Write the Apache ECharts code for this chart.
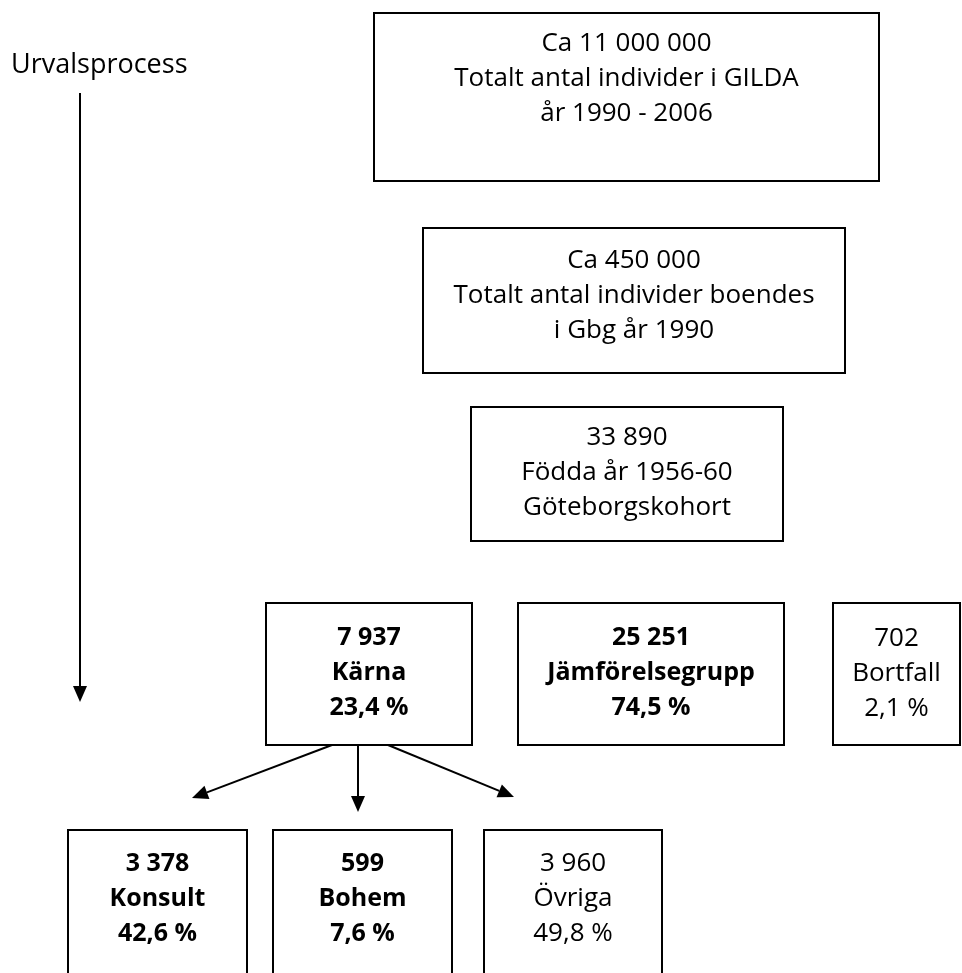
<!DOCTYPE html>
<html>
<head>
<meta charset="utf-8">
<script src="https://cdn.jsdelivr.net/npm/echarts@6/dist/echarts.min.js"></script>
<style>
  html, body { margin: 0; padding: 0; background: #fff; }
  #urval { width: 962px; height: 973px; }
</style>
</head>
<body>
<div id="urval"></div>
<script>
// texts of the boxes, top to bottom, left to right
const counts = ["Ca 11 000 000", "Ca 450 000", "33 890", "7 937", "25 251", "702", "3 378", "599", "3 960"];
const labels = ["Totalt antal individer i GILDA", "Totalt antal individer boendes", "Födda år 1956-60",
  "Kärna", "Jämförelsegrupp", "Bortfall", "Konsult", "Bohem", "Övriga"];
const notes = ["år 1990 - 2006", "i Gbg år 1990", "Göteborgskohort",
  "23,4 %", "74,5 %", "2,1 %", "42,6 %", "7,6 %", "49,8 %"];
const sideTitle = "Urvalsprocess";

// layout (page units, y downwards): box corners, first text line, bold
const boxLayout = [
  [374, 13, 879, 181, 44, false],
  [423, 228, 845, 373, 261, false],
  [471, 407, 783, 541, 438, false],
  [266, 603, 472, 745, 638, true],
  [518, 603, 784, 745, 638, true],
  [833, 603, 960, 745, 639, false],
  [68, 830, 247, 995, 864, true],
  [273, 830, 452, 995, 864, true],
  [484, 830, 662, 995, 864, false]
];
const arrowLayout = [
  [80, 93, 80, 702],
  [332, 745, 192, 798],
  [358, 745, 358, 812],
  [388, 745, 514, 797]
];

const chart = echarts.init(document.getElementById("urval"));
const fontFamily = "'Open Sans', sans-serif";

chart.setOption({
  animation: false,
  title: {
    text: sideTitle,
    left: 11,
    top: 52,
    padding: 0,
    textStyle: { fontSize: 27, fontWeight: "normal", color: "#000", fontFamily: fontFamily }
  },
  grid: { left: 0, right: 0, top: 0, bottom: 0 },
  xAxis: { type: "value", min: 0, max: 962, show: false },
  yAxis: { type: "value", min: 0, max: 973, inverse: true, show: false },
  series: [
    {
      type: "custom",
      clip: false,
      data: boxLayout.map((b) => [b[0], b[1], b[2], b[3], b[4]]),
      renderItem: (params, api) => {
        const i = params.dataIndex;
        const p0 = api.coord([api.value(0), api.value(1)]);
        const p1 = api.coord([api.value(2), api.value(3)]);
        const cx = (p0[0] + p1[0]) / 2;
        const lineY = api.coord([0, api.value(4)])[1];
        const isBold = boxLayout[i][5];
        const lines = [counts[i], labels[i], notes[i]];
        const children = [{
          type: "rect",
          shape: { x: p0[0], y: p0[1], width: p1[0] - p0[0], height: p1[1] - p0[1] },
          style: { fill: "#fff", stroke: "#000", lineWidth: 2 }
        }];
        lines.forEach((t, k) => {
          children.push({
            type: "text",
            style: {
              text: t,
              x: cx,
              y: lineY + k * 35,
              align: "center",
              verticalAlign: "middle",
              fontSize: isBold ? 25 : 26,
              fontWeight: isBold ? "bold" : "normal",
              fontFamily: fontFamily,
              fill: "#000"
            }
          });
        });
        return { type: "group", children: children };
      }
    },
    {
      type: "custom",
      clip: false,
      data: arrowLayout,
      renderItem: (params, api) => {
        const a = api.coord([api.value(0), api.value(1)]);
        const b = api.coord([api.value(2), api.value(3)]);
        const dx = b[0] - a[0];
        const dy = b[1] - a[1];
        const len = Math.sqrt(dx * dx + dy * dy);
        const ux = dx / len;
        const uy = dy / len;
        const headLen = 16;
        const headHalf = 7;
        const bx = b[0] - ux * headLen;
        const by = b[1] - uy * headLen;
        return {
          type: "group",
          children: [
            {
              type: "line",
              shape: { x1: a[0], y1: a[1], x2: bx, y2: by },
              style: { stroke: "#000", lineWidth: 2 }
            },
            {
              type: "polygon",
              shape: {
                points: [
                  [b[0], b[1]],
                  [bx - uy * headHalf, by + ux * headHalf],
                  [bx + uy * headHalf, by - ux * headHalf]
                ]
              },
              style: { fill: "#000" }
            }
          ]
        };
      }
    }
  ]
});
</script>
</body>
</html>
